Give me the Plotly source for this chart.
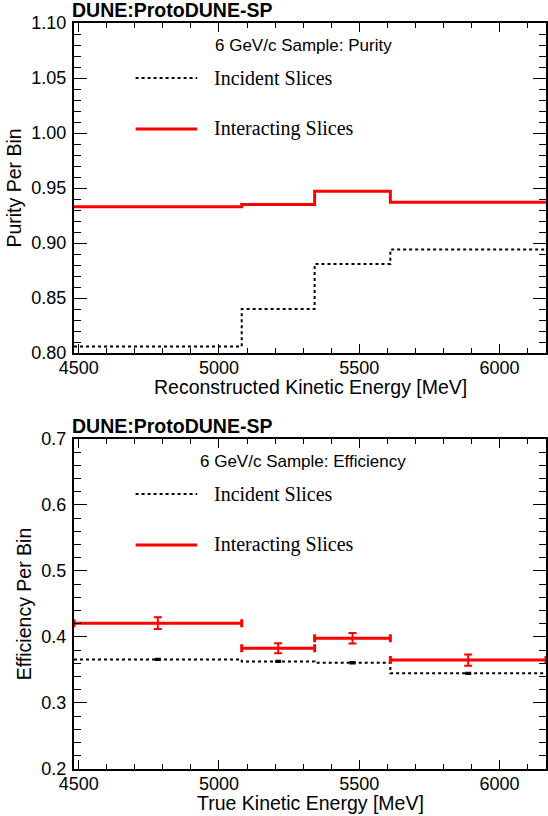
import plotly.graph_objects as go

# ---------------- data ----------------
bin_edges = [4483, 5081, 5341, 5611, 6166]
purity_incident = [0.806, 0.840, 0.881, 0.894]
purity_interacting = [0.933, 0.935, 0.947, 0.937]
eff_incident = [0.366, 0.363, 0.361, 0.345]
eff_incident_err = [0.001, 0.001, 0.001, 0.001]
eff_interacting = [0.421, 0.383, 0.398, 0.365]
eff_interacting_err = [0.009, 0.0075, 0.008, 0.0085]

legend_labels = ["Incident Slices", "Interacting Slices"]
panel_titles = ["6 GeV/c Sample: Purity", "6 GeV/c Sample: Efficiency"]
x_titles = ["Reconstructed Kinetic Energy [MeV]", "True Kinetic Energy [MeV]"]
y_titles = ["Purity Per Bin", "Efficiency Per Bin"]
experiment_label = "DUNE:ProtoDUNE-SP"

RED = "#ff0000"
SANS = "Liberation Sans, Arial, sans-serif"
SERIF = "Liberation Serif, Times New Roman, serif"

def step_xy(edges, vals):
    return list(edges), list(vals) + [vals[-1]]

centers = [(bin_edges[i] + bin_edges[i + 1]) / 2 for i in range(len(bin_edges) - 1)]
half_w = [(bin_edges[i + 1] - bin_edges[i]) / 2 for i in range(len(bin_edges) - 1)]

fig = go.Figure()

# top panel: purity
sx, sy = step_xy(bin_edges, purity_incident)
fig.add_trace(go.Scatter(x=sx, y=sy, mode="lines", line_shape="hv",
                         line=dict(color="black", width=2, dash="dot"),
                         xaxis="x", yaxis="y", showlegend=False))
sx, sy = step_xy(bin_edges, purity_interacting)
fig.add_trace(go.Scatter(x=sx, y=sy, mode="lines", line_shape="hv",
                         line=dict(color=RED, width=3),
                         xaxis="x", yaxis="y", showlegend=False))

# bottom panel: efficiency
sx, sy = step_xy(bin_edges, eff_incident)
fig.add_trace(go.Scatter(x=sx, y=sy, mode="lines", line_shape="hv",
                         line=dict(color="black", width=2, dash="dot"),
                         xaxis="x2", yaxis="y2", showlegend=False))
fig.add_trace(go.Scatter(x=centers, y=eff_incident, mode="markers",
                         marker=dict(size=1, color="black"),
                         error_y=dict(type="data", array=eff_incident_err, color="black",
                                      thickness=2, width=3),
                         xaxis="x2", yaxis="y2", showlegend=False))
fig.add_trace(go.Scatter(x=centers, y=eff_interacting, mode="markers",
                         marker=dict(size=1, color=RED),
                         error_x=dict(type="data", array=half_w, color=RED,
                                      thickness=3, width=4),
                         error_y=dict(type="data", array=eff_interacting_err, color=RED,
                                      thickness=2, width=4),
                         xaxis="x2", yaxis="y2", showlegend=False))

ax_common = dict(showgrid=False, zeroline=False, showline=True, linecolor="black",
                 linewidth=2, mirror="ticks", ticks="inside", tickcolor="black",
                 tickwidth=1, tickfont=dict(family=SANS, size=18, color="black"))

xax = dict(ax_common, range=[bin_edges[0], bin_edges[-1]], dtick=500, tick0=4500,
           ticklen=9, ticklabelstandoff=-3,
           minor=dict(ticks="inside", dtick=100, tick0=4500, ticklen=5,
                      tickwidth=1, tickcolor="black", showgrid=False))

TITLE_FONT = dict(family=SANS, size=19.5, color="black")

fig.update_layout(
    width=548, height=816,
    margin=dict(l=74, r=0, t=23, b=47),
    paper_bgcolor="white", plot_bgcolor="white",
    xaxis=dict(xax, anchor="y"),
    yaxis=dict(ax_common, domain=[0.5576, 1], range=[0.80, 1.10], dtick=0.05, tick0=0.8,
               tickformat=".2f", ticklen=13, anchor="x", ticklabelstandoff=2,
               minor=dict(ticks="inside", dtick=0.01, ticklen=7, tickwidth=1,
                          tickcolor="black", showgrid=False),
               title=dict(text=y_titles[0], font=TITLE_FONT, standoff=5)),
    xaxis2=dict(xax, anchor="y2"),
    yaxis2=dict(ax_common, domain=[0, 0.4424], range=[0.2, 0.7], dtick=0.1, tick0=0.2,
                tickformat=".1f", ticklen=13, anchor="x2", ticklabelstandoff=2,
                minor=dict(ticks="inside", dtick=0.02, ticklen=7, tickwidth=1,
                           tickcolor="black", showgrid=False),
                title=dict(text=y_titles[1], font=TITLE_FONT, standoff=5)),
)

# annotations and legend samples per panel
for xref, yref, title, xt in [("x domain", "y domain", panel_titles[0], x_titles[0]),
                              ("x2 domain", "y2 domain", panel_titles[1], x_titles[1])]:
    fig.add_annotation(xref=xref, yref=yref, x=0, y=1, xanchor="left", yanchor="bottom",
                       text="<b>" + experiment_label + "</b>", showarrow=False,
                       font=dict(family=SANS, size=19.5, color="black"), xshift=-4)
    fig.add_annotation(xref=xref, yref=yref, x=0.486, y=0.933, xanchor="center",
                       yanchor="middle", text=title, showarrow=False,
                       font=dict(family=SANS, size=17, color="black"))
    fig.add_annotation(xref=xref, yref=yref, x=0.5, y=0, xanchor="center",
                       yanchor="middle", yshift=-34, text=xt, showarrow=False,
                       font=TITLE_FONT)
    for lbl, yy, col, dash, w in [(legend_labels[0], 0.833, "black", "dot", 2),
                                  (legend_labels[1], 0.679, RED, "solid", 3)]:
        fig.add_shape(type="line", xref=xref, yref=yref, x0=0.1305, x1=0.261, y0=yy, y1=yy,
                      line=dict(color=col, width=w, dash=dash))
        fig.add_annotation(xref=xref, yref=yref, x=0.2926, y=yy, xanchor="left",
                           yanchor="middle", text=lbl, showarrow=False,
                           font=dict(family=SERIF, size=20, color="black"))

# remove the default 8px page margin so the figure fills the window exactly
fig.write_html("out.html", config={"displayModeBar": False},
               post_script="document.body.style.margin='0';document.body.style.overflow='hidden';")
